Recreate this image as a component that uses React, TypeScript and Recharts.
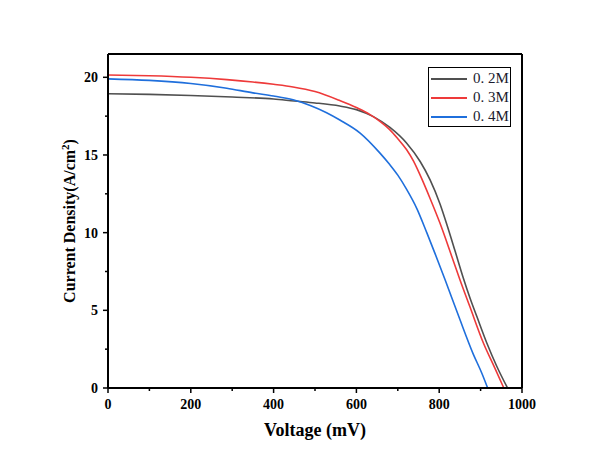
import React from "react";
import {
  LineChart,
  Line,
  XAxis,
  YAxis,
  Legend,
  ReferenceLine,
  Label,
} from "recharts";

// J-V curves, voltage in mV, current density in A/cm²
const v02 = [0, 100, 200, 300, 400, 450, 500, 560, 600, 641, 681, 721, 754, 778, 802, 820, 838, 858, 875, 891, 915, 939, 965];
const j02 = [18.94, 18.9, 18.83, 18.73, 18.6, 18.47, 18.35, 18.15, 17.92, 17.47, 16.77, 15.77, 14.58, 13.4, 11.85, 10.4, 8.85, 7.1, 5.75, 4.6, 2.9, 1.4, 0];

const v03 = [0, 100, 200, 287, 350, 400, 447, 500, 560, 600, 633, 660, 681, 700, 721, 738, 754, 778, 802, 830, 849, 874, 907, 935, 956];
const j03 = [20.15, 20.1, 20.0, 19.85, 19.7, 19.55, 19.38, 19.08, 18.5, 18.05, 17.6, 17.1, 16.62, 16.05, 15.35, 14.6, 13.7, 12.2, 10.6, 8.5, 7.05, 5.24, 2.88, 1.25, 0];

const v04 = [0, 100, 200, 287, 350, 400, 447, 490, 528, 560, 609, 657, 680, 700, 721, 746, 770, 790, 814, 848, 882, 903, 917];
const j04 = [19.9, 19.8, 19.6, 19.3, 19.0, 18.8, 18.55, 18.17, 17.72, 17.25, 16.41, 15.12, 14.4, 13.7, 12.8, 11.55, 10.0, 8.65, 6.98, 4.55, 2.2, 0.95, 0];

const seriesNames = ["0. 2M", "0. 3M", "0. 4M"];
const seriesColors = ["#505050", "#ee3a3a", "#1f6fdc"];

const xTicks = [0, 100, 200, 300, 400, 500, 600, 700, 800, 900, 1000];
const xMajor = [0, 200, 400, 600, 800, 1000];
const yTicks = [0, 2.5, 5, 7.5, 10, 12.5, 15, 17.5, 20];
const yMajor = [0, 5, 10, 15, 20];

const toPoints = (vs: number[], js: number[]) =>
  vs.map((v, i) => ({ v, j: js[i] }));

const series = [
  toPoints(v02, j02),
  toPoints(v03, j03),
  toPoints(v04, j04),
];

const FONT = "'Liberation Serif', 'Times New Roman', serif";
const TICK_SIZE = 5;
const TICK_MARGIN = 5;

function XTick(props: any) {
  const { x, y, payload } = props;
  const axisY = y - TICK_SIZE - TICK_MARGIN;
  const major = xMajor.includes(payload.value);
  return (
    <g>
      <line x1={x} x2={x} y1={axisY} y2={axisY + (major ? 5 : 3)} stroke="#000" strokeWidth={1.5} />
      {major && (
        <text x={x} y={axisY + 21} textAnchor="middle" fontFamily={FONT} fontWeight="bold" fontSize={14} fill="#000">
          {payload.value}
        </text>
      )}
    </g>
  );
}

function YTick(props: any) {
  const { x, y, payload } = props;
  const axisX = x + TICK_SIZE + TICK_MARGIN;
  const major = yMajor.includes(payload.value);
  return (
    <g>
      <line x1={axisX} x2={axisX - (major ? 5 : 3)} y1={y} y2={y} stroke="#000" strokeWidth={1.5} />
      {major && (
        <text x={axisX - 10} y={y + 5} textAnchor="end" fontFamily={FONT} fontWeight="bold" fontSize={14} fill="#000">
          {payload.value}
        </text>
      )}
    </g>
  );
}

function YLabel() {
  return (
    <text
      transform="translate(75, 221) rotate(-90)"
      textAnchor="middle"
      fontFamily={FONT}
      fontWeight="bold"
      fontSize={16}
      fill="#000"
    >
      Current Density(A/cm
      <tspan dy={-6} fontSize={11}>2</tspan>
      <tspan dy={6}>)</tspan>
    </text>
  );
}

function LegendBox() {
  return (
    <div
      style={{
        border: "1px solid #000",
        width: 81,
        height: 58,
        background: "#fff",
        boxSizing: "content-box",
      }}
    >
      {seriesNames.map((name, i) => (
        <div key={name} style={{ display: "flex", alignItems: "center", height: 19, marginTop: i === 0 ? 1 : 0 }}>
          <svg width={40} height={19}>
            <line x1={2} x2={38} y1={10} y2={10} stroke={seriesColors[i]} strokeWidth={2} />
          </svg>
          <span style={{ fontFamily: FONT, fontSize: 15, color: "#1a1a2e", marginLeft: 4 }}>{name}</span>
        </div>
      ))}
    </div>
  );
}

export default function App() {
  return (
    <div style={{ position: "absolute", left: 0, top: 0, width: 609, height: 467, background: "#fff" }}>
      <LineChart
        width={609}
        height={467}
        margin={{ top: 54, right: 87, bottom: 49, left: 68 }}
      >
        <XAxis
          dataKey="v"
          type="number"
          domain={[0, 1000]}
          ticks={xTicks}
          interval={0}
          tickSize={TICK_SIZE}
          tickMargin={TICK_MARGIN}
          tickLine={false}
          tick={<XTick />}
          axisLine={{ stroke: "#000", strokeWidth: 2 }}
          height={30}
          allowDuplicatedCategory={false}
        >
          <Label
            value="Voltage (mV)"
            position="insideBottom"
            offset={-18}
            style={{ fontFamily: FONT, fontWeight: "bold", fontSize: 18, fill: "#000" }}
          />
        </XAxis>
        <YAxis
          type="number"
          domain={[0, 21.5]}
          ticks={yTicks}
          interval={0}
          tickSize={TICK_SIZE}
          tickMargin={TICK_MARGIN}
          tickLine={false}
          tick={<YTick />}
          axisLine={{ stroke: "#000", strokeWidth: 2 }}
          width={40}
          label={<YLabel />}
        />
        <ReferenceLine y={21.5} stroke="#000" strokeWidth={2} />
        <ReferenceLine x={1000} stroke="#000" strokeWidth={2} />
        <Legend
          layout="vertical"
          align="center"
          verticalAlign="middle"
          content={<LegendBox />}
          wrapperStyle={{ left: 428, top: 67, width: 83, height: 60 }}
        />
        {series.map((pts, i) => (
          <Line
            key={seriesNames[i]}
            data={pts}
            dataKey="j"
            name={seriesNames[i]}
            type="monotone"
            stroke={seriesColors[i]}
            strokeWidth={1.6}
            dot={false}
            isAnimationActive={false}
          />
        ))}
      </LineChart>
    </div>
  );
}
